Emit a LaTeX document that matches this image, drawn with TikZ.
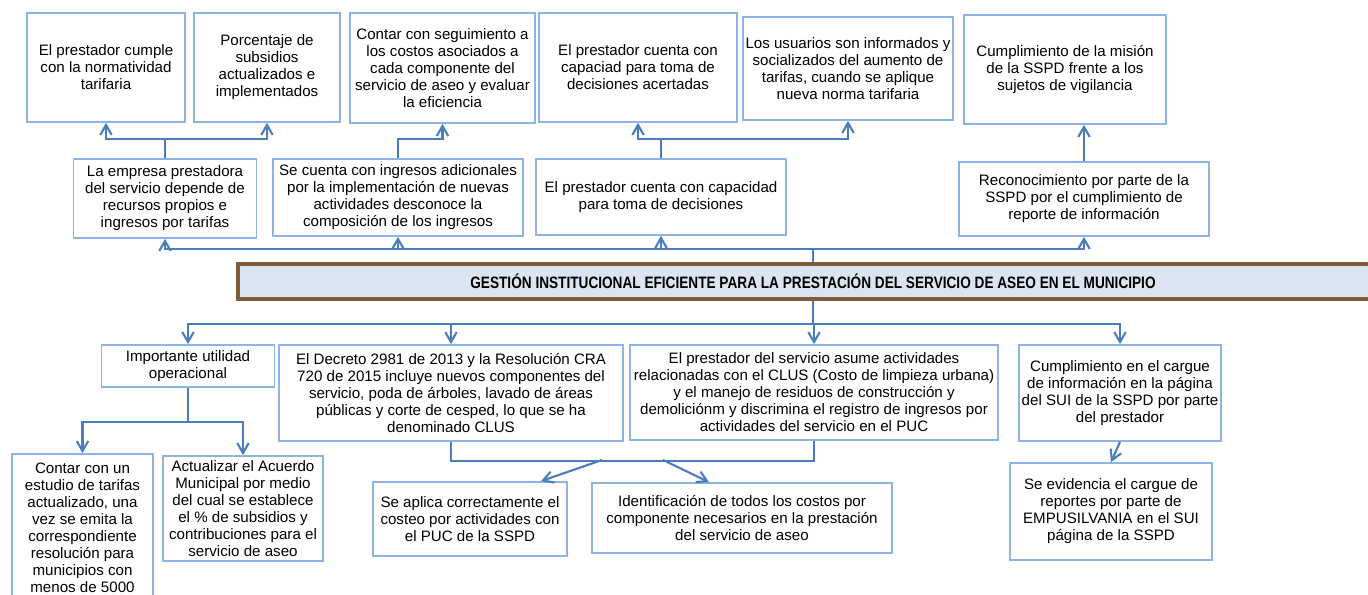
\documentclass[tikz,border=0pt]{standalone}
\usepackage{fontspec}
\setmainfont{Liberation Sans}
\newfontfamily\narrowbold[FakeStretch=0.825]{Liberation Sans}
\usetikzlibrary{arrows.meta, calc}
\definecolor{lineblue}{HTML}{4A7EBB}
\definecolor{boxblue}{HTML}{8EB4E3}
\definecolor{barfill}{HTML}{DBE5F1}
\definecolor{barbrown}{HTML}{7F5B3B}

\begin{document}
\begin{tikzpicture}[>={Straight Barb[length=2mm, width=2.3mm]},
  box/.style={draw=boxblue, line width=1pt, align=center, inner sep=1pt,
    font=\fontsize{8.6}{9.7}\selectfont},
  arr/.style={->, draw=lineblue, line width=1.2pt},
  link/.style={draw=lineblue, line width=1.2pt}]
  \useasboundingbox (0,0) rectangle (27.36,-11.9);
  % fila superior: fines
  \node[box, minimum width=3.16cm, minimum height=2.18cm] (S1) at (2.12,-1.35)
    {El prestador cumple\\con la normatividad\\tarifaria};
  \node[box, minimum width=2.92cm, minimum height=2.18cm] (S2) at (5.34,-1.35)
    {Porcentaje de\\subsidios\\actualizados e\\implementados};
  \node[box, minimum width=3.70cm, minimum height=2.20cm] (S3) at (8.85,-1.36)
    {Contar con seguimiento a\\los costos asociados a\\cada componente del\\servicio de aseo y evaluar\\la eficiencia};
  \node[box, minimum width=3.96cm, minimum height=2.18cm] (S4) at (12.76,-1.35)
    {El prestador cuenta con\\capaciad para toma de\\decisiones acertadas};
  \node[box, minimum width=4.20cm, minimum height=2.06cm] (S5) at (16.96,-1.37)
    {Los usuarios son informados y\\socializados del aumento de\\tarifas, cuando se aplique\\nueva norma tarifaria};
  \node[box, minimum width=4.04cm, minimum height=2.18cm] (S6) at (21.30,-1.39)
    {Cumplimiento de la misión\\de la SSPD frente a los\\sujetos de vigilancia};
  % fila media
  \node[box, minimum width=3.66cm, minimum height=1.58cm] (M1) at (3.30,-3.97)
    {La empresa prestadora\\del servicio depende de\\recursos propios e\\ingresos por tarifas};
  \node[box, minimum width=5.00cm, minimum height=1.54cm] (M2) at (7.96,-3.95)
    {Se cuenta con ingresos adicionales\\por la implementación de nuevas\\actividades desconoce la\\composición de los ingresos};
  \node[box, minimum width=5.00cm, minimum height=1.52cm] (M3) at (13.22,-3.94)
    {El prestador cuenta con capacidad\\para toma de decisiones};
  \node[box, minimum width=5.00cm, minimum height=1.48cm] (M4) at (21.68,-3.98)
    {Reconocimiento por parte de la\\SSPD por el cumplimiento de\\reporte de información};
  % barra central
  \node[draw=barbrown, line width=1.8pt, fill=barfill, minimum width=23cm,
    minimum height=0.70cm, font=\narrowbold\bfseries\fontsize{9.4}{11}\selectfont] (G) at (16.26,-5.63)
    {GESTIÓN INSTITUCIONAL EFICIENTE PARA LA PRESTACIÓN DEL SERVICIO DE ASEO EN EL MUNICIPIO};
  % fila inferior: causas
  \node[box, minimum width=3.46cm, minimum height=0.84cm] (I1) at (3.76,-7.32)
    {Importante utilidad\\operacional};
  \node[box, minimum width=6.88cm, minimum height=1.92cm] (I2) at (9.02,-7.86)
    {El Decreto 2981 de 2013 y la Resolución CRA\\720 de 2015 incluye nuevos componentes del\\servicio, poda de árboles, lavado de áreas\\públicas y corte de cesped, lo que se ha\\denominado CLUS};
  \node[box, minimum width=7.36cm, minimum height=1.90cm] (I3) at (16.28,-7.85)
    {El prestador del servicio asume actividades\\relacionadas con el CLUS (Costo de limpieza urbana)\\y el manejo de residuos de construcción y\\demoliciónm y discrimina el registro de ingresos por\\actividades del servicio en el PUC};
  \node[box, minimum width=4.04cm, minimum height=1.92cm] (I4) at (22.40,-7.86)
    {Cumplimiento en el cargue\\de información en la página\\del SUI de la SSPD por parte\\del prestador};
  \node[box, minimum width=2.82cm, minimum height=2.96cm] (J1) at (1.65,-10.56)
    {Contar con un\\estudio de tarifas\\actualizado, una\\vez se emita la\\correspondiente\\resolución para\\municipios con\\menos de 5000};
  \node[box, minimum width=3.20cm, minimum height=2.10cm] (J2) at (4.86,-10.17)
    {Actualizar el Acuerdo\\Municipal por medio\\del cual se establece\\el \% de subsidios y\\contribuciones para el\\servicio de aseo};
  \node[box, minimum width=3.88cm, minimum height=1.48cm] (J3) at (9.40,-10.38)
    {Se aplica correctamente el\\costeo por actividades con\\el PUC de la SSPD};
  \node[box, minimum width=6.00cm, minimum height=1.40cm] (J4) at (14.84,-10.36)
    {Identificación de todos los costos por\\componente necesarios en la prestación\\del servicio de aseo};
  \node[box, minimum width=4.04cm, minimum height=1.94cm] (J5) at (22.22,-10.23)
    {Se evidencia el cargue de\\reportes por parte de\\EMPUSILVANIA en el SUI\\página de la SSPD};
  % flechas hacia arriba
  \draw[arr] (M1.north) -- ++(0,0.38) -| (S1.south);
  \draw[arr] (M1.north) -- ++(0,0.38) -| (S2.south);
  \draw[arr] (M2.north) -- ++(0,0.38) -| (S3.south);
  \draw[arr] (M3.north) -- ++(0,0.38) -| (S4.south);
  \draw[arr] (M3.north) -- ++(0,0.38) -| (S5.south);
  \draw[arr] (M4.north) -- (M4.north |- S6.south);
  \foreach \m in {M1,M2,M3,M4}
    \draw[arr] (G.north) -- ++(0,0.26) -| (\m.south);
  % flechas hacia abajo
  \foreach \i in {I1,I2,I3,I4}
    \draw[arr] (G.south) -- ++(0,-0.46) -| (\i.north);
  \draw[arr] (I1.south) -- ++(0,-0.68) -| (J1.north);
  \draw[arr] (I1.south) -- ++(0,-0.68) -| (J2.north);
  \draw[link] (I2.south) -- ++(0,-0.38) -| (I3.south);
  \coordinate (ja) at (12.04,-9.2);
  \coordinate (jb) at (13.26,-9.2);
  \draw[arr] (ja) -- ([xshift=1.42cm]J3.north);
  \draw[arr] (jb) -- ([xshift=-0.66cm]J4.north);
  \draw[arr] (I4.south) -- (J5.north);
\end{tikzpicture}
\end{document}
